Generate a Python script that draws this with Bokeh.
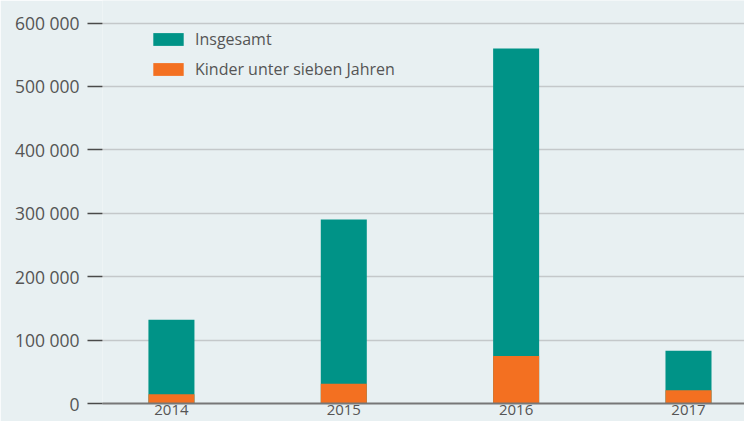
from bokeh.plotting import figure
from bokeh.models import ColumnDataSource, FixedTicker, CustomJSTickFormatter, Legend, LegendItem, Range1d
from bokeh.embed import file_html
from bokeh.resources import INLINE

years = [2014, 2015, 2016, 2017]
insgesamt = [132000, 290000, 560000, 83000]
kinder = [14500, 31000, 75000, 21000]
y_ticks = [0, 100000, 200000, 300000, 400000, 500000, 600000]

BG = "#e8f0f2"
TEAL = "#009387"
ORANGE = "#f37021"
FONT = "Open Sans"

src = ColumnDataSource(dict(year=years, total=insgesamt, kids=kinder))

p = figure(width=744, height=421, output_backend="svg", toolbar_location=None,
           x_range=Range1d(2013.6, 2017.325), y_range=Range1d(0, 635500),
           min_border_left=102, min_border_right=0, min_border_top=0, min_border_bottom=18)
p.background_fill_color = BG
p.border_fill_color = BG
p.outline_line_color = None

r1 = p.vbar(x="year", top="total", bottom=0, width=0.267, source=src,
            fill_color=TEAL, line_color=None)
r2 = p.vbar(x="year", top="kids", bottom=0, width=0.267, source=src,
            fill_color=ORANGE, line_color=None)

p.xgrid.visible = False
p.ygrid.grid_line_color = "#c4c8ca"
p.ygrid.grid_line_width = 1.5
p.ygrid.ticker = FixedTicker(ticks=y_ticks)

ya = p.yaxis[0]
ya.ticker = FixedTicker(ticks=y_ticks)
ya.formatter = CustomJSTickFormatter(code="return String(Math.round(tick)).replace(/\\B(?=(\\d{3})+(?!\\d))/g, ' ');")
ya.axis_line_color = None
ya.major_tick_out = 15
ya.major_tick_in = 0
ya.major_tick_line_color = "#4a4a4a"
ya.major_tick_line_width = 1.5
ya.minor_tick_line_color = None
ya.major_label_standoff = 8
ya.major_label_text_font = FONT
ya.major_label_text_font_size = "17.5px"
ya.major_label_text_color = "#555555"

xa = p.xaxis[0]
xa.ticker = FixedTicker(ticks=years)
xa.axis_line_color = "#777777"
xa.axis_line_width = 2
xa.major_tick_line_color = None
xa.minor_tick_line_color = None
xa.major_tick_out = 0
xa.major_tick_in = 0
xa.major_label_standoff = 1
xa.major_label_text_font = FONT
xa.major_label_text_font_size = "15px"
xa.major_label_text_color = "#555555"

legend = Legend(items=[LegendItem(label="Insgesamt", renderers=[r1]),
                       LegendItem(label="Kinder unter sieben Jahren", renderers=[r2])],
                location=(47, 323))
legend.background_fill_alpha = 0
legend.border_line_color = None
legend.padding = 0
legend.margin = 0
legend.spacing = 8
legend.glyph_width = 38
legend.glyph_height = 16
legend.label_text_font = FONT
legend.label_text_font_size = "16px"
legend.label_text_color = "#555555"
legend.label_standoff = 8
legend.label_height = 16
p.add_layout(legend, "center")

open("out.html", "w").write(file_html(p, INLINE))
